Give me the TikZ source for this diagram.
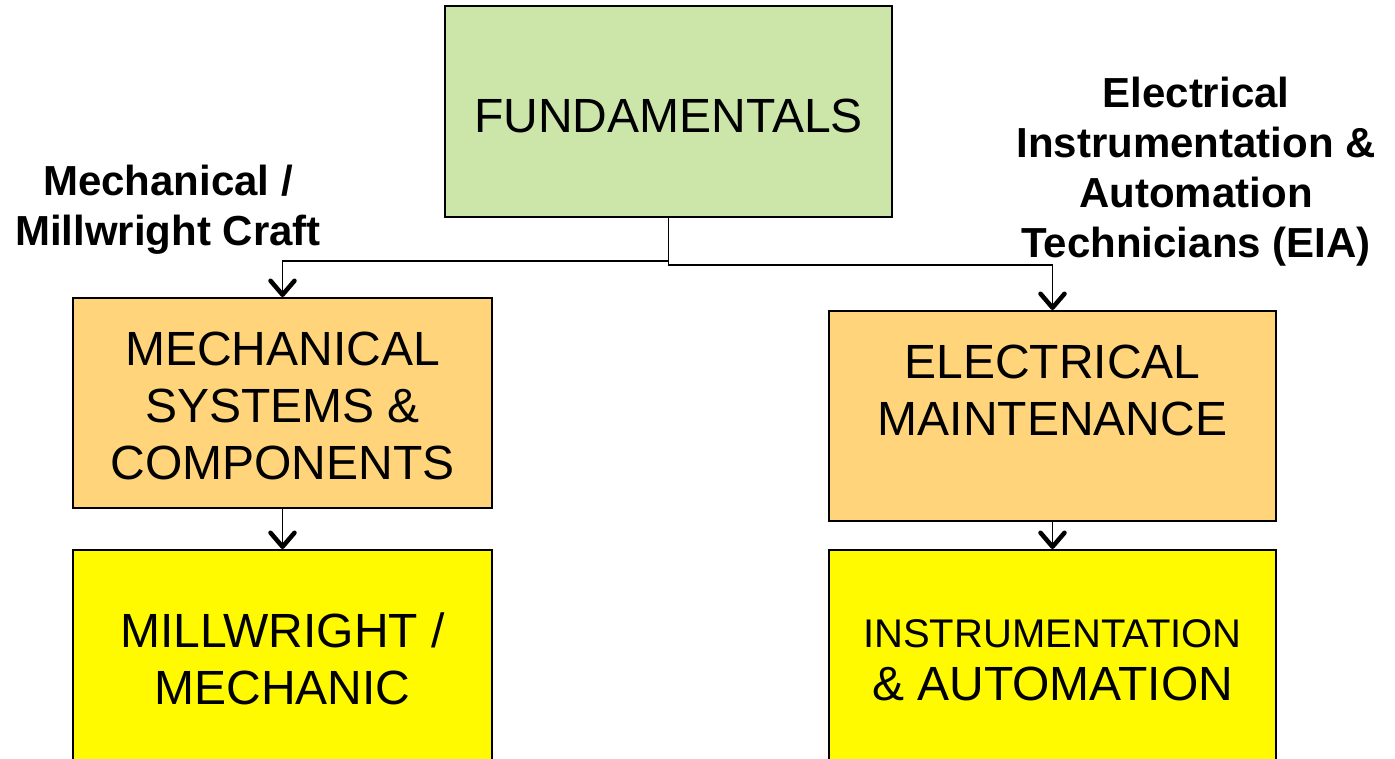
\documentclass[tikz,border=0pt]{standalone}
\usepackage{fontspec}
\setmainfont{Liberation Sans}
\usetikzlibrary{arrows.meta}
\definecolor{fundgreen}{RGB}{204,230,170}
\definecolor{boxorange}{RGB}{255,212,122}
\definecolor{boxyellow}{RGB}{255,250,0}
\tikzset{
  box/.style={draw=black, line width=2pt, inner sep=0pt, rectangle},
  boxtext/.style={inner sep=0pt, align=center, font=\fontsize{48}{57}\selectfont},
  lbl/.style={inner sep=0pt, align=center, font=\fontsize{42}{50}\selectfont\bfseries},
  conn/.style={draw=black, line width=1.8pt, -{Straight Barb[length=14pt,width=24pt,line width=4.5pt,round]}}
}
\begin{document}
\begin{tikzpicture}[x=1pt,y=-1pt]
\useasboundingbox (0,0) rectangle (1395,759);
% boxes
\node[box, fill=fundgreen, minimum width=447pt, minimum height=211pt] (fund) at (668.5,111.5) {};
\node[box, fill=boxorange, minimum width=419pt, minimum height=210pt] (mech) at (282.5,403) {};
\node[box, fill=boxorange, minimum width=447pt, minimum height=210pt] (elec) at (1052.5,416) {};
\node[box, fill=boxyellow, minimum width=419pt, minimum height=216pt] (mill) at (282.5,658) {};
\node[box, fill=boxyellow, minimum width=447pt, minimum height=216pt] (inst) at (1052.5,658) {};
% box texts
\node[boxtext] (fundT) at (668.5,116) {FUNDAMENTALS};
\node[boxtext] (mechT) at (282.5,406) {MECHANICAL\\SYSTEMS \&\\COMPONENTS};
\node[boxtext] (elecT) at (1052.5,390) {ELECTRICAL\\MAINTENANCE};
\node[boxtext] (millT) at (282.5,659) {MILLWRIGHT /\\MECHANIC};
\node[boxtext, font=\fontsize{48}{53}\selectfont] (instT) at (1052.5,660) {{\fontsize{40}{45}\selectfont INSTRUMENTATION}\\\& AUTOMATION};
% labels
\node[lbl] (mechL) at (168,210) {Mechanical /\\Millwright Craft};
\node[lbl] (elecL) at (1196,172) {Electrical\\Instrumentation \&\\Automation\\Technicians (EIA)};
% connectors
\draw[conn] (fund.south) -- ++(0,43) -| (mech.north);
\draw[conn] (fund.south) -- ++(0,47) -| (elec.north);
\draw[conn] (mech.south) -- (mill.north);
\draw[conn] (elec.south) -- (inst.north);
\end{tikzpicture}
\end{document}
